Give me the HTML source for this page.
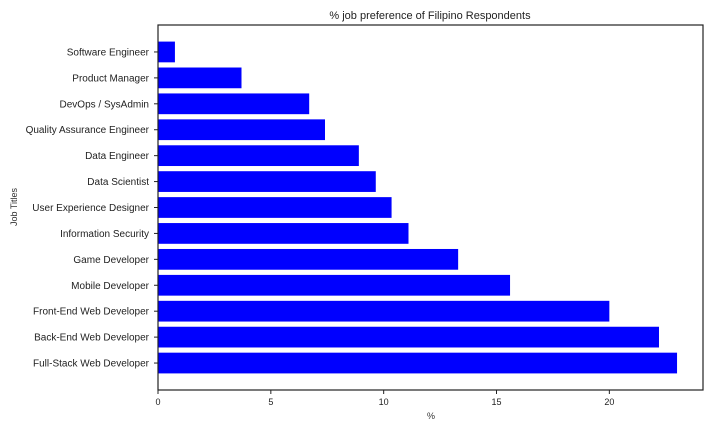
<!DOCTYPE html>
<html><head><meta charset="utf-8"><style>
body{margin:0;background:#fff;}
svg{display:block;font-family:"Liberation Sans",sans-serif;}
</style></head><body>
<svg id="chart" width="720" height="432" viewBox="0 0 720 432" xmlns="http://www.w3.org/2000/svg">
<rect width="720" height="432" fill="#fff"/>
<text x="430" y="19" font-size="11" text-anchor="middle" fill="#222">% job preference of Filipino Respondents</text>
<text x="431" y="419" font-size="9" text-anchor="middle" fill="#333">%</text>
<text transform="translate(17,207) rotate(-90)" font-size="9" text-anchor="middle" fill="#333">Job Titles</text>
<g id="bars"></g><g id="yticks"></g><g id="xticks"></g>
<rect x="158" y="25" width="545" height="365" fill="none" stroke="#222" stroke-width="1.2"/>
</svg>
<script>
const categories = ["Full-Stack Web Developer","Back-End Web Developer","Front-End Web Developer","Mobile Developer","Game Developer","Information Security","User Experience Designer","Data Scientist","Data Engineer","Quality Assurance Engineer","DevOps / SysAdmin","Product Manager","Software Engineer"];
const values = [23.0,22.2,20.0,15.6,13.3,11.1,10.35,9.65,8.9,7.4,6.7,3.7,0.75];
const xTicks = [0,5,10,15,20];
const NS="http://www.w3.org/2000/svg";
const L=158,R=703,T=25,B=390;
const n=categories.length;
const xMax=Math.max(...values)*1.05;
const x=v=>L+v/xMax*(R-L);
const yMin=-0.4-0.05*(n-1+0.8), yMax=n-1+0.4+0.05*(n-1+0.8);
const y=i=>B-(i-yMin)/(yMax-yMin)*(B-T);
const bw=(B-T)/(yMax-yMin)*0.8;
function mk(t,a,p){const e=document.createElementNS(NS,t);for(const k in a)e.setAttribute(k,a[k]);p.appendChild(e);return e;}
const gb=document.getElementById('bars'),gy=document.getElementById('yticks'),gx=document.getElementById('xticks');
categories.forEach((c,i)=>{
  const r=mk('rect',{x:x(0),y:y(i)-bw/2,width:x(values[i])-x(0),height:bw,fill:'#0000ff'},gb);
  
  
  const tk=mk('line',{x1:L-4,x2:L,y1:y(i),y2:y(i),stroke:'#222','stroke-width':1},gy);
  
  
  const t=mk('text',{x:L-9,y:y(i)+3.5,'font-size':10,'text-anchor':'end',fill:'#222'},gy);
  t.textContent=c;
  
  
});
xTicks.forEach(v=>{
  const tk=mk('line',{x1:x(v),x2:x(v),y1:B,y2:B+4,stroke:'#222','stroke-width':1},gx);
  
  
  const t=mk('text',{x:x(v),y:B+15,'font-size':9,'text-anchor':'middle',fill:'#222'},gx);
  t.textContent=v;
  
  
});
</script>
</body></html>
